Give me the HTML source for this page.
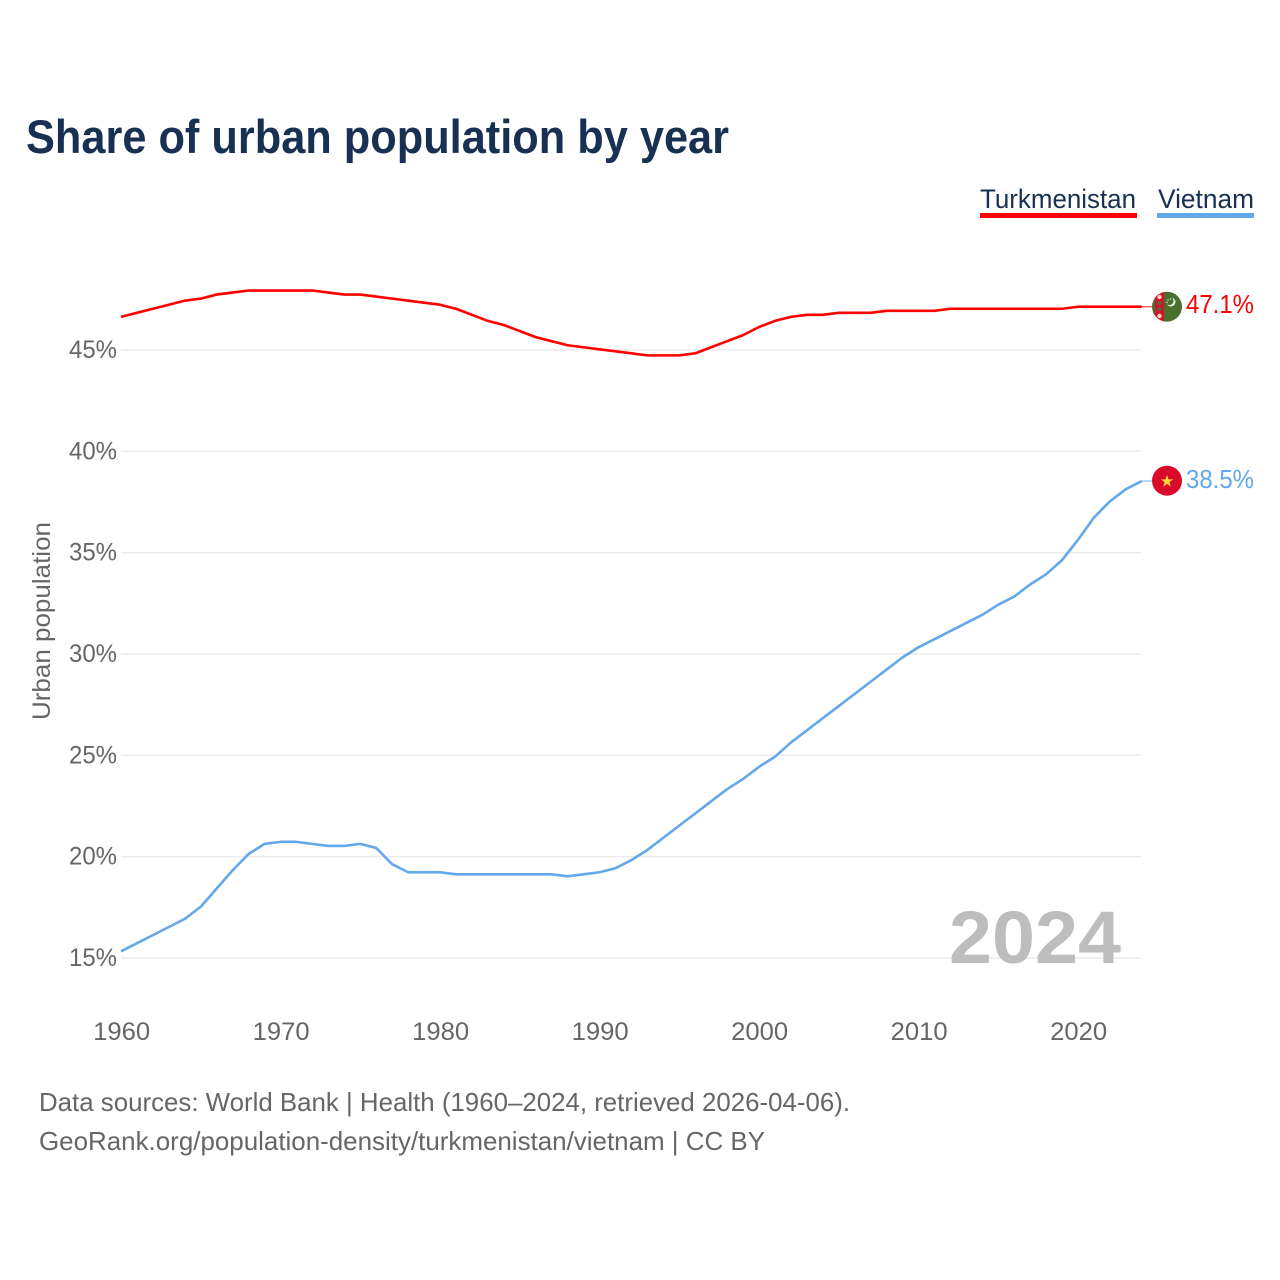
<!DOCTYPE html>
<html>
<head>
<meta charset="utf-8">
<title>Share of urban population by year</title>
<style>
html,body{margin:0;padding:0;background:#fff;}
svg{display:block;font-family:"Liberation Sans",sans-serif;}
</style>
</head>
<body>
<svg id="chart" width="1280" height="1280" viewBox="0 0 1280 1280" xmlns="http://www.w3.org/2000/svg">
<rect width="1280" height="1280" fill="#fff"/>
<text x="26" y="153" font-size="47" font-weight="700" fill="#183152" textLength="703" lengthAdjust="spacingAndGlyphs">Share of urban population by year</text>

<g>
<g>
<text x="980" y="208" font-size="27" fill="#183152" textLength="156" lengthAdjust="spacingAndGlyphs">Turkmenistan</text>
<rect x="980" y="213" width="157" height="5" fill="#ff0000"/>
</g>
<g>
<text x="1158" y="208" font-size="27" fill="#183152" textLength="96" lengthAdjust="spacingAndGlyphs">Vietnam</text>
<rect x="1157" y="213" width="97" height="5" fill="#63a8ea"/>
</g>
</g>

<g id="grid"></g>
<g id="yticks"></g>
<g id="xticks"></g>
<text transform="translate(50 720) rotate(-90)" font-size="25" fill="#666" textLength="198" lengthAdjust="spacingAndGlyphs">Urban population</text>

<text x="949" y="963" font-size="74" font-weight="700" fill="#bdbdbd" textLength="172" lengthAdjust="spacingAndGlyphs">2024</text>

<g id="series"></g>

<defs>
<clipPath id="flag-tm-clip"><circle cx="1167" cy="306.7" r="15"/></clipPath>
</defs>
<g clip-path="url(#flag-tm-clip)">
<rect x="1152" y="291" width="30" height="32" fill="#4b6f2f"/>
<rect x="1155" y="291" width="9" height="32" fill="#d8112f"/>
<circle cx="1159.5" cy="297" r="2.2" fill="#f3d9b5"/>
<circle cx="1159.5" cy="303" r="2" fill="#4b6f2f"/>
<circle cx="1159.5" cy="309" r="2" fill="#4b6f2f"/>
<circle cx="1159.5" cy="316" r="2.2" fill="#f3d9b5"/>
<circle cx="1171" cy="302" r="4.5" fill="#e8efe0"/>
<circle cx="1169.5" cy="301" r="4" fill="#4b6f2f"/>
<circle cx="1168" cy="300" r="0.7" fill="#e8efe0"/>
<circle cx="1170.5" cy="299" r="0.7" fill="#e8efe0"/>
<circle cx="1167" cy="302.5" r="0.7" fill="#e8efe0"/>
</g>
<g>
<circle cx="1167" cy="480.7" r="15" fill="#da0a2a"/>
<text x="1167" y="486.5" font-size="16" text-anchor="middle" fill="#ffd83d" font-family="'DejaVu Sans',sans-serif">★</text>
</g>

<text x="1186" y="313" font-size="26" fill="#ff0000" textLength="68" lengthAdjust="spacingAndGlyphs">47.1%</text>
<text x="1186" y="488" font-size="26" fill="#63a8ea" textLength="68" lengthAdjust="spacingAndGlyphs">38.5%</text>

<text x="39" y="1111" font-size="26" fill="#666" textLength="811" lengthAdjust="spacingAndGlyphs">Data sources: World Bank | Health (1960–2024, retrieved 2026-04-06).</text>
<text x="39" y="1150" font-size="26" fill="#666" textLength="726" lengthAdjust="spacingAndGlyphs">GeoRank.org/population-density/turkmenistan/vietnam | CC BY</text>
</svg>
<script>
var startYear = 1960;
var yTickValues = [15, 20, 25, 30, 35, 40, 45];
var xTickValues = [1960, 1970, 1980, 1990, 2000, 2010, 2020];
var turkmenistan = [46.6,46.8,47.0,47.2,47.4,47.5,47.7,47.8,47.9,47.9,47.9,47.9,47.9,47.8,47.7,47.7,47.6,47.5,47.4,47.3,47.2,47.0,46.7,46.4,46.2,45.9,45.6,45.4,45.2,45.1,45.0,44.9,44.8,44.7,44.7,44.7,44.8,45.1,45.4,45.7,46.1,46.4,46.6,46.7,46.7,46.8,46.8,46.8,46.9,46.9,46.9,46.9,47.0,47.0,47.0,47.0,47.0,47.0,47.0,47.0,47.1,47.1,47.1,47.1,47.1];
var vietnam = [15.3,15.7,16.1,16.5,16.9,17.5,18.4,19.3,20.1,20.6,20.7,20.7,20.6,20.5,20.5,20.6,20.4,19.6,19.2,19.2,19.2,19.1,19.1,19.1,19.1,19.1,19.1,19.1,19.0,19.1,19.2,19.4,19.8,20.3,20.9,21.5,22.1,22.7,23.3,23.8,24.4,24.9,25.6,26.2,26.8,27.4,28.0,28.6,29.2,29.8,30.3,30.7,31.1,31.5,31.9,32.4,32.8,33.4,33.9,34.6,35.6,36.7,37.5,38.1,38.5];

var NS = 'http://www.w3.org/2000/svg';
function xScale(year) { return 121 + (year - 1960) * 15.95; }
function yScale(value) { return 958 - (value - 15) * 20.27; }
function make(tag, attrs, parent) {
  var el = document.createElementNS(NS, tag);
  for (var k in attrs) { el.setAttribute(k, attrs[k]); }
  parent.appendChild(el);
  return el;
}
var grid = document.getElementById('grid');
var yticks = document.getElementById('yticks');
var xticks = document.getElementById('xticks');
var series = document.getElementById('series');

yTickValues.forEach(function (v) {
  var line = make('line', {x1: 121, x2: 1141, y1: yScale(v), y2: yScale(v), stroke: '#ebebeb', 'stroke-width': 1.5}, grid);
  
  
  var label = make('text', {x: 117, y: yScale(v) + 8, 'text-anchor': 'end', 'font-size': 25, fill: '#666', textLength: 48, lengthAdjust: 'spacingAndGlyphs'}, yticks);
  
  
  label.textContent = v + '%';
});

xTickValues.forEach(function (y) {
  var label = make('text', {x: xScale(y) + 0.7, y: 1040, 'text-anchor': 'middle', 'font-size': 25, fill: '#666', textLength: 57, lengthAdjust: 'spacingAndGlyphs'}, xticks);
  
  
  label.textContent = y;
});

function drawSeries(values, color, name) {
  var pts = values.map(function (v, i) {
    return xScale(startYear + i).toFixed(2) + ',' + (yScale(v) - 0.6).toFixed(2);
  }).join(' ');
  var line = make('polyline', {points: pts, fill: 'none', stroke: color, 'stroke-width': 2.6, 'stroke-linejoin': 'round'}, series);
  
  
  var last = values[values.length - 1];
  var lastYear = startYear + values.length - 1;
  var connector = make('line', {x1: xScale(lastYear), x2: 1152, y1: yScale(last) - 0.6, y2: yScale(last) - 0.6, stroke: color, 'stroke-width': 1.5, opacity: 0.6}, series);
  
  
}
drawSeries(turkmenistan, '#ff0000', 'line-turkmenistan');
drawSeries(vietnam, '#63a8ea', 'line-vietnam');
</script>
</body>
</html>
